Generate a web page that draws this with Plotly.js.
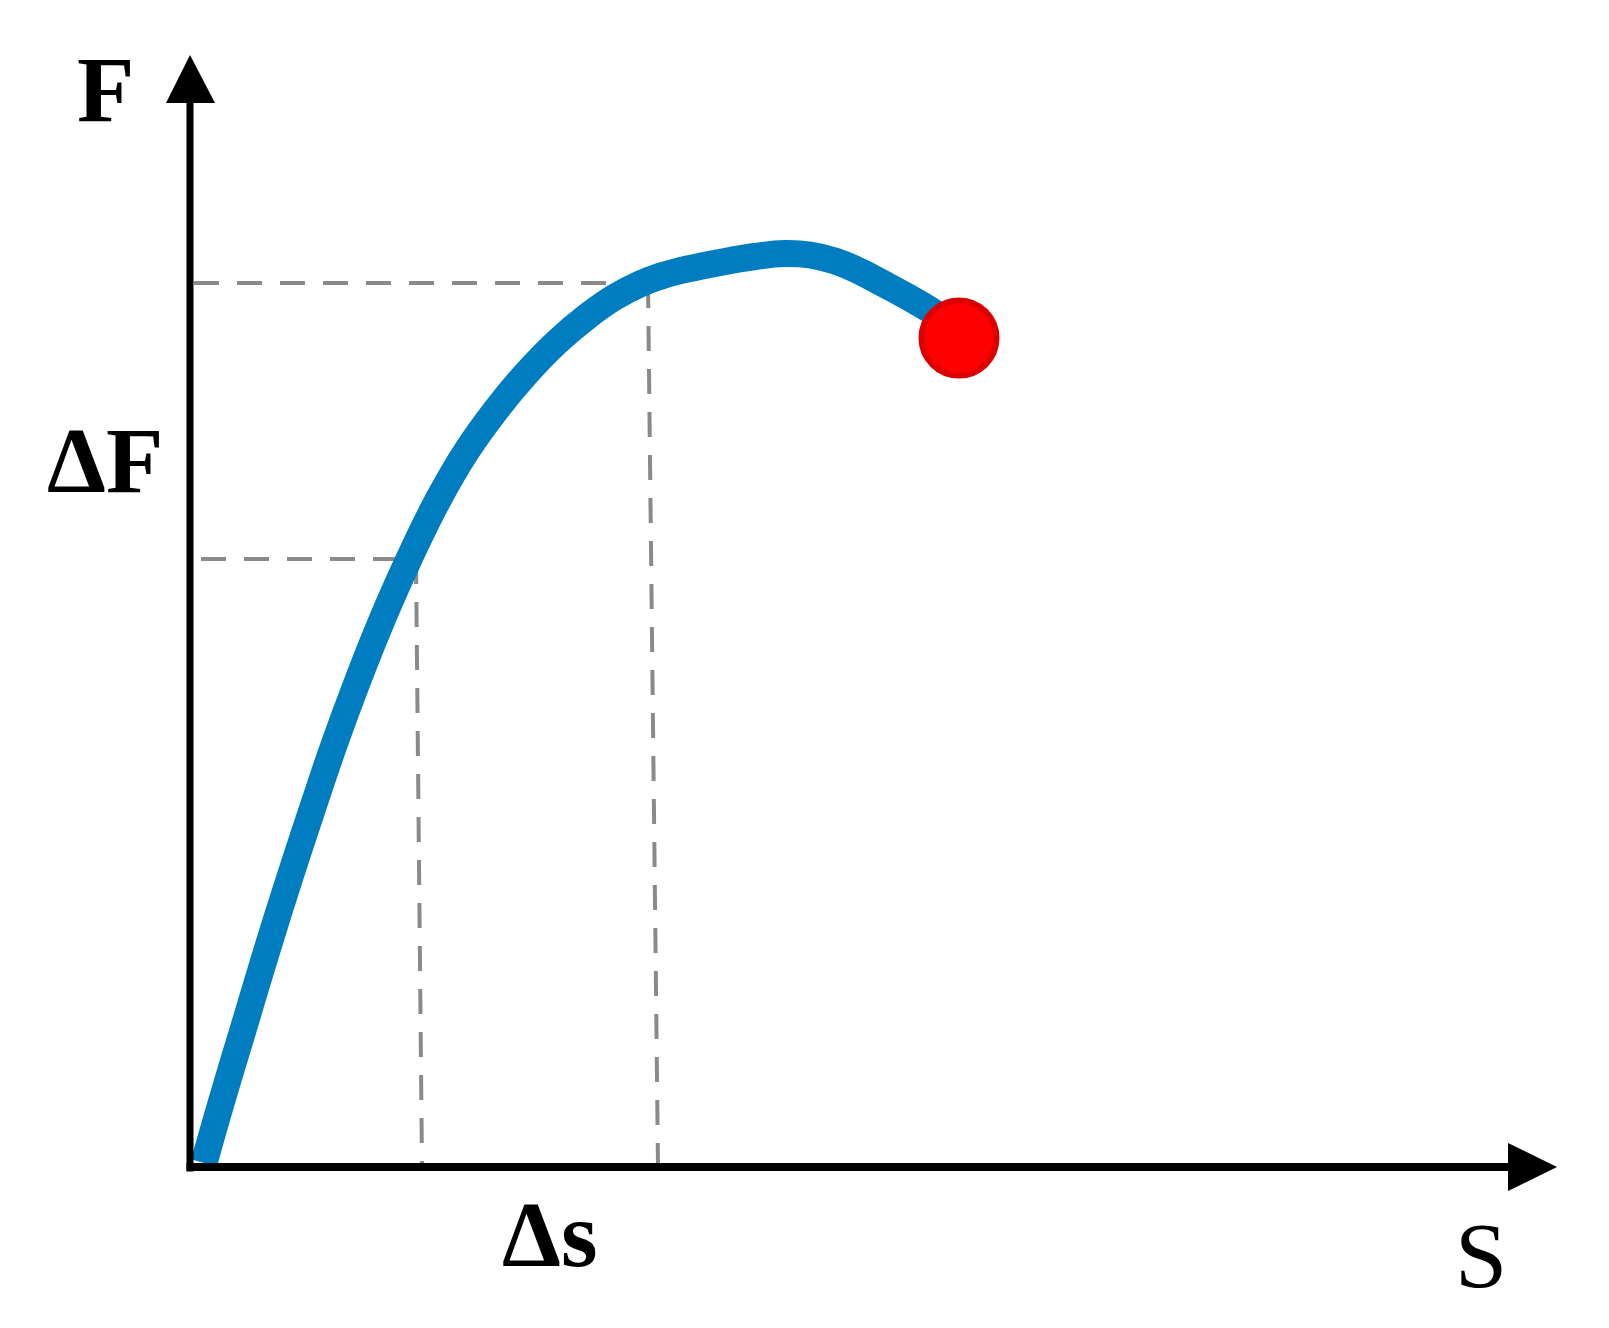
<!DOCTYPE html>
<html>
<head>
<meta charset="utf-8">
<script src="https://cdn.plot.ly/plotly-3.0.1.min.js"></script>
<style>
  html, body { margin: 0; padding: 0; background: #fff; }
  #myDiv { width: 1609px; height: 1328px; }
</style>
</head>
<body>
<div id="myDiv"></div>
<script>
// force-displacement curve (1 unit ~ 100px)
var curveS = [0.13, 0.31, 0.52, 0.76, 0.98, 1.21, 1.43, 1.67, 1.91, 2.18, 2.47, 2.75, 3.05, 3.34, 3.66,
              3.98, 4.24, 4.49, 4.67, 4.84, 5.29, 5.64, 5.94, 6.19, 6.44, 6.69, 6.92, 7.16, 7.39, 7.57];
var curveF = [0.04, 0.67, 1.37, 2.17, 2.87, 3.57, 4.22, 4.87, 5.47, 6.08, 6.67, 7.15, 7.57, 7.92, 8.25,
              8.52, 8.70, 8.83, 8.90, 8.95, 9.045, 9.105, 9.135, 9.12, 9.06, 8.955, 8.835, 8.705, 8.57, 8.45];

// failure point
var failS = [7.68];
var failF = [8.29];

// dashed guide lines
var lowS = [0.10, 2.25, 2.25, 2.31];
var lowF = [6.08, 6.08, 6.08, 0.00];
var highS = [0.03, 4.57, 4.57, 4.67];
var highF = [8.84, 8.84, 8.84, 0.00];

var labels = ['F', 'ΔF', 'Δs', 'S'];
var labelS = [-0.86, -0.86, 3.59, 12.90];
var labelF = [10.78, 7.07, -0.67, -0.88];
var labelBold = [true, true, true, false];

var div = document.getElementById('myDiv');

var dashLine = {color: '#8a8a8a', width: 4, dash: '25px,18px'};

var data = [
    {x: lowS.slice(0, 2), y: lowF.slice(0, 2), mode: 'lines', line: dashLine, hoverinfo: 'skip'},
    {x: lowS.slice(2), y: lowF.slice(2), mode: 'lines', line: dashLine, hoverinfo: 'skip'},
    {x: highS.slice(0, 2), y: highF.slice(0, 2), mode: 'lines', line: dashLine, hoverinfo: 'skip'},
    {x: highS.slice(2), y: highF.slice(2), mode: 'lines', line: dashLine, hoverinfo: 'skip'},
    {
        x: curveS, y: curveF,
        mode: 'lines',
        line: {color: '#007dc0', width: 27, shape: 'spline', smoothing: 1.3, simplify: false},
        hoverinfo: 'skip'
    },
    {
        x: failS, y: failF,
        mode: 'markers',
        marker: {color: '#ff0000', size: 75, line: {color: '#dd0000', width: 6}},
        hoverinfo: 'skip'
    }
];

var shapes = [
    // axes
    {type: 'line', x0: -0.01, y0: -0.045, x1: -0.01, y1: 10.66, line: {color: '#000', width: 7}},
    {type: 'line', x0: -0.045, y0: 0, x1: 13.19, y1: 0, line: {color: '#000', width: 8}},
    {type: 'path', path: 'M -0.01 11.12 L -0.25 10.64 L 0.24 10.64 Z', fillcolor: '#000', line: {width: 0}},
    {type: 'path', path: 'M 13.66 0 L 13.17 0.24 L 13.17 -0.24 Z', fillcolor: '#000', line: {width: 0}}
];

var annotations = labels.map(function (t, i) {
    return {
        x: labelS[i], y: labelF[i], xref: 'x', yref: 'y',
        text: labelBold[i] ? '<b>' + t + '</b>' : t,
        showarrow: false,
        xanchor: 'center', yanchor: 'middle',
        font: {family: 'Liberation Serif', size: 94, color: '#000'}
    };
});

var layout = {
    width: 1609,
    height: 1328,
    margin: {l: 0, r: 0, t: 0, b: 0, pad: 0},
    paper_bgcolor: '#fff',
    plot_bgcolor: '#fff',
    showlegend: false,
    xaxis: {range: [-1.91, 14.18], visible: false, fixedrange: true},
    yaxis: {range: [-1.61, 11.67], visible: false, fixedrange: true},
    shapes: shapes,
    annotations: annotations
};

Plotly.newPlot(div, data, layout, {staticPlot: true});
</script>
</body>
</html>
